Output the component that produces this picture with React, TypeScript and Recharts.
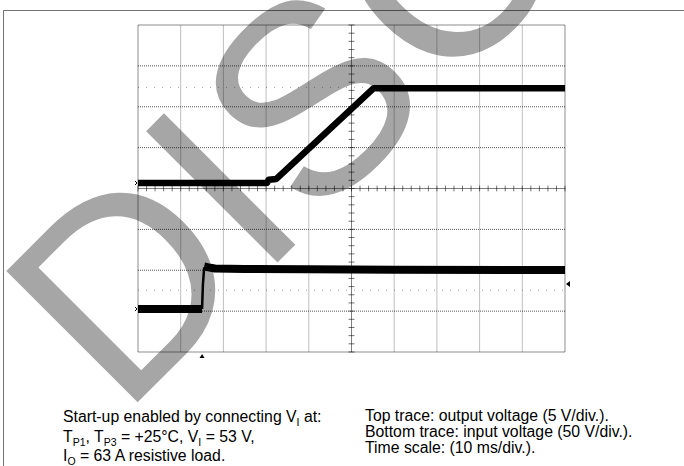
import React from 'react';
import { LineChart, Line, XAxis, YAxis, ReferenceLine, ReferenceDot } from 'recharts';

// Time axis (ms), 10 ms/div, 10 divisions
const timeTicks = [0, 10, 20, 30, 40, 50, 60, 70, 80, 90, 100];
const divTicks = [0, 1, 2, 3, 4, 5, 6, 7, 8];

// Top trace: output voltage (V), 5 V/div
const outTime = [0, 30.2, 30.6, 32.4, 55.2, 100];
const outVolt = [0, 0, 0.4, 0.5, 11.6, 11.6];

// Bottom trace: input voltage (V), 50 V/div
const inLowTime = [0, 15.0];
const inLowVolt = [0, 0];
const inEdgeTime = [15.0, 15.2, 15.5];
const inEdgeVolt = [0, 30, 51];
const inHighTime = [15.5, 16.5, 18.0, 25.0, 40.0, 60.0, 100];
const inHighVolt = [52, 51, 49.5, 49, 48.5, 48, 47.7];

// markers
const triggerTime = 15;
const triggerLevel = 30.6;
const outCursor = 11.7;
const inCursor = 23;

// captions: [text, isSubscript]
const captionLeft: [string, boolean][][] = [
  [['Start-up enabled by connecting V', false], ['I', true], [' at:', false]],
  [['T', false], ['P1', true], [', T', false], ['P3', true], [' = +25°C, V', false], ['I', true], [' = 53 V,', false]],
  [['I', false], ['O', true], [' = 63 A resistive load.', false]],
];
const captionRight = [
  'Top trace: output voltage (5 V/div.).',
  'Bottom trace: input voltage (50 V/div.).',
  'Time scale: (10 ms/div.).',
];

const toRows = (t: number[], v: number[]) => t.map((x, i) => ({ t: x, v: v[i] }));

const outData = toRows(outTime, outVolt);
const inLowData = toRows(inLowTime, inLowVolt);
const inEdgeData = toRows(inEdgeTime, inEdgeVolt);
const inHighData = toRows(inHighTime, inHighVolt);

const minorX: number[] = [];
for (let i = 0; i <= 50; i++) minorX.push(i * 2);
const minorY: number[] = [];
for (let i = 0; i <= 40; i++) minorY.push(Math.round(i * 0.2 * 100) / 100);

const FONT = '"Liberation Sans", Arial, Helvetica, sans-serif';
const CAP = 15.8;

const TriUp = (props: any) => {
  const { cx, cy } = props;
  return <path d={`M${cx - 2.5},${cy + 6} L${cx + 2.5},${cy + 6} L${cx},${cy + 2} Z`} fill="#000" />;
};
const TriLeft = (props: any) => {
  const { cx, cy } = props;
  return <path d={`M${cx + 1},${cy} L${cx + 5},${cy - 3} L${cx + 5},${cy + 3} Z`} fill="#000" />;
};
const GndMark = (props: any) => {
  const { cx, cy } = props;
  return <path d={`M${cx - 3},${cy - 2} L${cx - 1},${cy} L${cx - 3},${cy + 2}`} stroke="#000" strokeWidth={1} fill="none" />;
};

const renderRich = (segs: [string, boolean][]) => {
  let shifted = false;
  return segs.map(([s, isSub], i) => {
    let dy = 0;
    if (isSub && !shifted) { dy = 4; shifted = true; }
    else if (!isSub && shifted) { dy = -4; shifted = false; }
    return (
      <tspan key={i} dy={dy} fontSize={isSub ? 10.5 : CAP}>{s}</tspan>
    );
  });
};

export default function App() {
  const leftBase = [422, 442, 461];
  const rightBase = [421, 437, 453];
  return (
    <div style={{ position: 'absolute', left: 0, top: 0, width: 684, height: 466, background: '#fff', overflow: 'hidden' }}>
      <svg width={684} height={466} style={{ position: 'absolute', left: 0, top: 0 }}>
        <text
          x={122}
          y={418}
          transform="rotate(-45 122 418)"
          fontSize={270}
          fontFamily={FONT}
          fill="#a6a6a6"
        >
          DISC
        </text>
      </svg>
      <div style={{ position: 'absolute', left: 0, top: 0 }}>
        <LineChart width={684} height={466} margin={{ top: 25, left: 138, right: 119, bottom: 114 }}>
          <XAxis dataKey="t" type="number" domain={[0, 100]} ticks={timeTicks} hide allowDataOverflow />
          <YAxis yAxisId="out" type="number" domain={[-20.67, 19.33]} hide width={0} allowDataOverflow />
          <YAxis yAxisId="in" type="number" domain={[-52.6, 347.4]} hide width={0} allowDataOverflow />
          <YAxis yAxisId="grid" type="number" domain={[0, 8]} ticks={divTicks} hide width={0} allowDataOverflow />

          {timeTicks.filter((x) => x !== 0 && x !== 50 && x !== 100).map((x) => (
            <ReferenceLine key={'vx' + x} x={x} yAxisId="grid" stroke="rgba(0,0,0,0.25)" strokeWidth={1} />
          ))}
          {divTicks.filter((y) => y !== 0 && y !== 4 && y !== 8).map((y) => (
            <ReferenceLine key={'hy' + y} y={y} yAxisId="grid" stroke="rgba(0,0,0,0.65)" strokeDasharray="1 1" strokeWidth={1} />
          ))}
          <ReferenceLine y={outCursor} yAxisId="out" stroke="rgba(0,0,0,0.35)" strokeDasharray="1 7" />
          <ReferenceLine y={inCursor} yAxisId="in" stroke="rgba(0,0,0,0.35)" strokeDasharray="1 7" />

          <ReferenceLine x={50} yAxisId="grid" stroke="rgba(0,0,0,0.5)" strokeWidth={1} />
          <ReferenceLine y={4} yAxisId="grid" stroke="rgba(0,0,0,0.5)" strokeWidth={1} />
          {minorX.map((x) => (
            <ReferenceLine key={'mx' + x} yAxisId="grid" segment={[{ x, y: 3.93 }, { x, y: 4.07 }]} stroke="rgba(0,0,0,0.55)" />
          ))}
          {minorY.map((y) => (
            <ReferenceLine key={'my' + y} yAxisId="grid" segment={[{ x: 49.3, y }, { x: 50.7, y }]} stroke="rgba(0,0,0,0.55)" />
          ))}

          <ReferenceLine x={0} yAxisId="grid" stroke="rgba(0,0,0,0.45)" />
          <ReferenceLine x={100} yAxisId="grid" stroke="rgba(0,0,0,0.45)" />
          <ReferenceLine y={0} yAxisId="grid" stroke="rgba(0,0,0,0.45)" />
          <ReferenceLine y={8} yAxisId="grid" stroke="rgba(0,0,0,0.45)" />

          <Line yAxisId="out" data={outData} dataKey="v" stroke="#000" strokeWidth={6.5} dot={false} isAnimationActive={false} strokeLinejoin="round" />
          <Line yAxisId="in" data={inLowData} dataKey="v" stroke="#000" strokeWidth={8} dot={false} isAnimationActive={false} strokeLinecap="butt" />
          <Line yAxisId="in" data={inEdgeData} dataKey="v" stroke="#000" strokeWidth={2.5} dot={false} isAnimationActive={false} />
          <Line yAxisId="in" data={inHighData} dataKey="v" stroke="#000" strokeWidth={8} dot={false} isAnimationActive={false} strokeLinejoin="round" />

          <ReferenceDot x={triggerTime} y={0} yAxisId="grid" r={2} shape={TriUp} ifOverflow="visible" />
          <ReferenceDot x={100} y={triggerLevel} yAxisId="in" r={2} shape={TriLeft} ifOverflow="visible" />
          <ReferenceDot x={0} y={0} yAxisId="out" r={2} shape={GndMark} ifOverflow="visible" />
          <ReferenceDot x={0} y={0} yAxisId="in" r={2} shape={GndMark} ifOverflow="visible" />
        </LineChart>
      </div>
      <svg width={684} height={466} style={{ position: 'absolute', left: 0, top: 0 }}>
        <line x1={3.5} y1={10.5} x2={684} y2={10.5} stroke="rgba(0,0,0,0.55)" strokeWidth={1} />
        <line x1={3.5} y1={10.5} x2={3.5} y2={466} stroke="rgba(0,0,0,0.55)" strokeWidth={1} />
        <g fontFamily={FONT} fontSize={CAP} fill="#000">
          {captionLeft.map((segs, i) => (
            <text key={'l' + i} x={63} y={leftBase[i]}>{renderRich(segs)}</text>
          ))}
          {captionRight.map((s, i) => (
            <text key={'r' + i} x={365} y={rightBase[i]}>{s}</text>
          ))}
        </g>
      </svg>
    </div>
  );
}
